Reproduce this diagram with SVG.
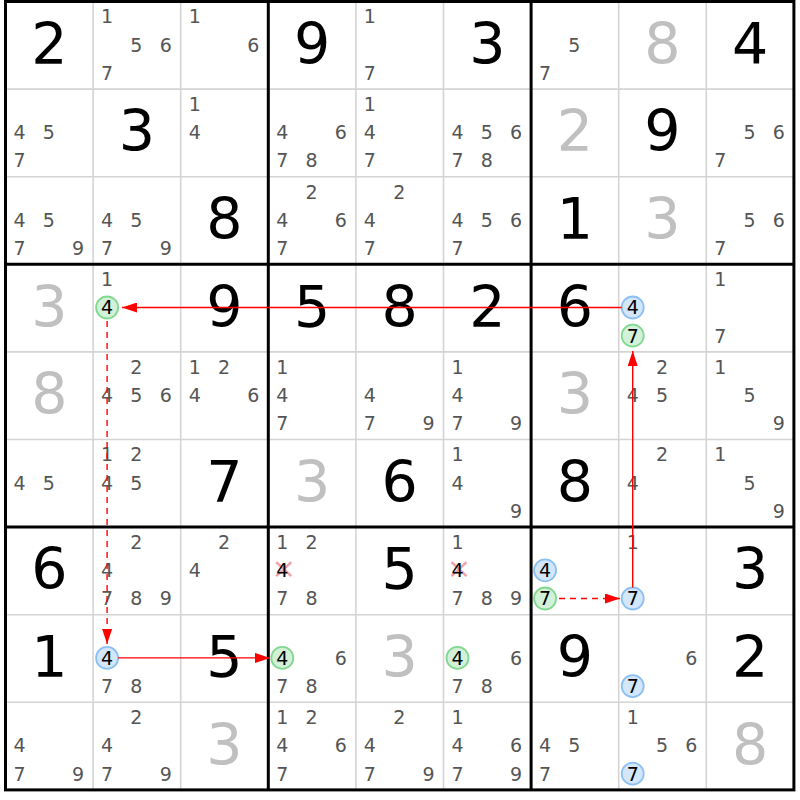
<svg xmlns="http://www.w3.org/2000/svg" width="800" height="800" viewBox="0 0 800 800">
<style>
text{font-family:"DejaVu Sans","Liberation Sans",sans-serif;text-anchor:middle}
.g{font-size:57px;fill:#000}
.s{font-size:57px;fill:#c0c0c0}
.c{font-size:19px;fill:#555}
.h{font-size:19px;fill:#000}
.thin{stroke:#d4d4d4;stroke-width:1.6}
.thick{stroke:#000;stroke-width:3}
.cg{fill:#d3f1d8;stroke:#82d890;stroke-width:1.8}
.cb{fill:#d3e6fa;stroke:#8cc0f2;stroke-width:1.8}
.x{stroke:#f4a0a8;stroke-width:2.5}
.a{stroke:#ff0000;stroke-width:1.4;fill:none}
.d{stroke-dasharray:6,5}
</style>
<defs>
<marker id="ah" markerUnits="userSpaceOnUse" markerWidth="15" markerHeight="10" refX="15" refY="5" orient="auto"><path d="M0,0 L15,5 L0,10 z" fill="#ff0000"/></marker>
</defs>
<rect width="800" height="800" fill="#fff"/>
<g id="grid">
<path class="thin" d="M93.1,1.5V789.9M180.7,1.5V789.9M355.9,1.5V789.9M443.5,1.5V789.9M618.7,1.5V789.9M706.3,1.5V789.9M5.5,89.1H793.9M5.5,176.7H793.9M5.5,351.9H793.9M5.5,439.5H793.9M5.5,614.7H793.9M5.5,702.3H793.9"/>
<path class="thick" d="M268.3,1.5V789.9M531.1,1.5V789.9M5.5,264.3H793.9M5.5,527.1H793.9"/>
<rect class="thick" x="5.5" y="1.5" width="788.4" height="788.4" fill="none"/>
</g>
<g id="cells">
<g id="r0c0" transform="translate(5.5,1.5)"><text class="g" x="43.8" y="62.3">2</text></g>
<g id="r0c1" transform="translate(93.1,1.5)"><text class="c" x="14" y="21.9">1</text><text class="c" x="43.3" y="50.1">5</text><text class="c" x="72.6" y="50.1">6</text><text class="c" x="14" y="78.3">7</text></g>
<g id="r0c2" transform="translate(180.7,1.5)"><text class="c" x="14" y="21.9">1</text><text class="c" x="72.6" y="50.1">6</text></g>
<g id="r0c3" transform="translate(268.3,1.5)"><text class="g" x="43.8" y="62.3">9</text></g>
<g id="r0c4" transform="translate(355.9,1.5)"><text class="c" x="14" y="21.9">1</text><text class="c" x="14" y="78.3">7</text></g>
<g id="r0c5" transform="translate(443.5,1.5)"><text class="g" x="43.8" y="62.3">3</text></g>
<g id="r0c6" transform="translate(531.1,1.5)"><text class="c" x="43.3" y="50.1">5</text><text class="c" x="14" y="78.3">7</text></g>
<g id="r0c7" transform="translate(618.7,1.5)"><text class="s" x="43.8" y="62.3">8</text></g>
<g id="r0c8" transform="translate(706.3,1.5)"><text class="g" x="43.8" y="62.3">4</text></g>

<g id="r1c0" transform="translate(5.5,89.1)"><text class="c" x="14" y="50.1">4</text><text class="c" x="43.3" y="50.1">5</text><text class="c" x="14" y="78.3">7</text></g>
<g id="r1c1" transform="translate(93.1,89.1)"><text class="g" x="43.8" y="62.3">3</text></g>
<g id="r1c2" transform="translate(180.7,89.1)"><text class="c" x="14" y="21.9">1</text><text class="c" x="14" y="50.1">4</text></g>
<g id="r1c3" transform="translate(268.3,89.1)"><text class="c" x="14" y="50.1">4</text><text class="c" x="72.6" y="50.1">6</text><text class="c" x="14" y="78.3">7</text><text class="c" x="43.3" y="78.3">8</text></g>
<g id="r1c4" transform="translate(355.9,89.1)"><text class="c" x="14" y="21.9">1</text><text class="c" x="14" y="50.1">4</text><text class="c" x="14" y="78.3">7</text></g>
<g id="r1c5" transform="translate(443.5,89.1)"><text class="c" x="14" y="50.1">4</text><text class="c" x="43.3" y="50.1">5</text><text class="c" x="72.6" y="50.1">6</text><text class="c" x="14" y="78.3">7</text><text class="c" x="43.3" y="78.3">8</text></g>
<g id="r1c6" transform="translate(531.1,89.1)"><text class="s" x="43.8" y="62.3">2</text></g>
<g id="r1c7" transform="translate(618.7,89.1)"><text class="g" x="43.8" y="62.3">9</text></g>
<g id="r1c8" transform="translate(706.3,89.1)"><text class="c" x="43.3" y="50.1">5</text><text class="c" x="72.6" y="50.1">6</text><text class="c" x="14" y="78.3">7</text></g>

<g id="r2c0" transform="translate(5.5,176.7)"><text class="c" x="14" y="50.1">4</text><text class="c" x="43.3" y="50.1">5</text><text class="c" x="14" y="78.3">7</text><text class="c" x="72.6" y="78.3">9</text></g>
<g id="r2c1" transform="translate(93.1,176.7)"><text class="c" x="14" y="50.1">4</text><text class="c" x="43.3" y="50.1">5</text><text class="c" x="14" y="78.3">7</text><text class="c" x="72.6" y="78.3">9</text></g>
<g id="r2c2" transform="translate(180.7,176.7)"><text class="g" x="43.8" y="62.3">8</text></g>
<g id="r2c3" transform="translate(268.3,176.7)"><text class="c" x="43.3" y="21.9">2</text><text class="c" x="14" y="50.1">4</text><text class="c" x="72.6" y="50.1">6</text><text class="c" x="14" y="78.3">7</text></g>
<g id="r2c4" transform="translate(355.9,176.7)"><text class="c" x="43.3" y="21.9">2</text><text class="c" x="14" y="50.1">4</text><text class="c" x="14" y="78.3">7</text></g>
<g id="r2c5" transform="translate(443.5,176.7)"><text class="c" x="14" y="50.1">4</text><text class="c" x="43.3" y="50.1">5</text><text class="c" x="72.6" y="50.1">6</text><text class="c" x="14" y="78.3">7</text></g>
<g id="r2c6" transform="translate(531.1,176.7)"><text class="g" x="43.8" y="62.3">1</text></g>
<g id="r2c7" transform="translate(618.7,176.7)"><text class="s" x="43.8" y="62.3">3</text></g>
<g id="r2c8" transform="translate(706.3,176.7)"><text class="c" x="43.3" y="50.1">5</text><text class="c" x="72.6" y="50.1">6</text><text class="c" x="14" y="78.3">7</text></g>

<g id="r3c0" transform="translate(5.5,264.3)"><text class="s" x="43.8" y="62.3">3</text></g>
<g id="r3c1" transform="translate(93.1,264.3)"><text class="c" x="14" y="21.9">1</text><circle class="cg" cx="14" cy="43.2" r="11"/><text class="h" x="14" y="50.1">4</text></g>
<g id="r3c2" transform="translate(180.7,264.3)"><text class="g" x="43.8" y="62.3">9</text></g>
<g id="r3c3" transform="translate(268.3,264.3)"><text class="g" x="43.8" y="62.3">5</text></g>
<g id="r3c4" transform="translate(355.9,264.3)"><text class="g" x="43.8" y="62.3">8</text></g>
<g id="r3c5" transform="translate(443.5,264.3)"><text class="g" x="43.8" y="62.3">2</text></g>
<g id="r3c6" transform="translate(531.1,264.3)"><text class="g" x="43.8" y="62.3">6</text></g>
<g id="r3c7" transform="translate(618.7,264.3)"><circle class="cb" cx="14" cy="43.2" r="11"/><text class="h" x="14" y="50.1">4</text><circle class="cg" cx="14" cy="71.4" r="11"/><text class="h" x="14" y="78.3">7</text></g>
<g id="r3c8" transform="translate(706.3,264.3)"><text class="c" x="14" y="21.9">1</text><text class="c" x="14" y="78.3">7</text></g>

<g id="r4c0" transform="translate(5.5,351.9)"><text class="s" x="43.8" y="62.3">8</text></g>
<g id="r4c1" transform="translate(93.1,351.9)"><text class="c" x="43.3" y="21.9">2</text><text class="c" x="14" y="50.1">4</text><text class="c" x="43.3" y="50.1">5</text><text class="c" x="72.6" y="50.1">6</text></g>
<g id="r4c2" transform="translate(180.7,351.9)"><text class="c" x="14" y="21.9">1</text><text class="c" x="43.3" y="21.9">2</text><text class="c" x="14" y="50.1">4</text><text class="c" x="72.6" y="50.1">6</text></g>
<g id="r4c3" transform="translate(268.3,351.9)"><text class="c" x="14" y="21.9">1</text><text class="c" x="14" y="50.1">4</text><text class="c" x="14" y="78.3">7</text></g>
<g id="r4c4" transform="translate(355.9,351.9)"><text class="c" x="14" y="50.1">4</text><text class="c" x="14" y="78.3">7</text><text class="c" x="72.6" y="78.3">9</text></g>
<g id="r4c5" transform="translate(443.5,351.9)"><text class="c" x="14" y="21.9">1</text><text class="c" x="14" y="50.1">4</text><text class="c" x="14" y="78.3">7</text><text class="c" x="72.6" y="78.3">9</text></g>
<g id="r4c6" transform="translate(531.1,351.9)"><text class="s" x="43.8" y="62.3">3</text></g>
<g id="r4c7" transform="translate(618.7,351.9)"><text class="c" x="43.3" y="21.9">2</text><text class="c" x="14" y="50.1">4</text><text class="c" x="43.3" y="50.1">5</text></g>
<g id="r4c8" transform="translate(706.3,351.9)"><text class="c" x="14" y="21.9">1</text><text class="c" x="43.3" y="50.1">5</text><text class="c" x="72.6" y="78.3">9</text></g>

<g id="r5c0" transform="translate(5.5,439.5)"><text class="c" x="14" y="50.1">4</text><text class="c" x="43.3" y="50.1">5</text></g>
<g id="r5c1" transform="translate(93.1,439.5)"><text class="c" x="14" y="21.9">1</text><text class="c" x="43.3" y="21.9">2</text><text class="c" x="14" y="50.1">4</text><text class="c" x="43.3" y="50.1">5</text></g>
<g id="r5c2" transform="translate(180.7,439.5)"><text class="g" x="43.8" y="62.3">7</text></g>
<g id="r5c3" transform="translate(268.3,439.5)"><text class="s" x="43.8" y="62.3">3</text></g>
<g id="r5c4" transform="translate(355.9,439.5)"><text class="g" x="43.8" y="62.3">6</text></g>
<g id="r5c5" transform="translate(443.5,439.5)"><text class="c" x="14" y="21.9">1</text><text class="c" x="14" y="50.1">4</text><text class="c" x="72.6" y="78.3">9</text></g>
<g id="r5c6" transform="translate(531.1,439.5)"><text class="g" x="43.8" y="62.3">8</text></g>
<g id="r5c7" transform="translate(618.7,439.5)"><text class="c" x="43.3" y="21.9">2</text><text class="c" x="14" y="50.1">4</text></g>
<g id="r5c8" transform="translate(706.3,439.5)"><text class="c" x="14" y="21.9">1</text><text class="c" x="43.3" y="50.1">5</text><text class="c" x="72.6" y="78.3">9</text></g>

<g id="r6c0" transform="translate(5.5,527.1)"><text class="g" x="43.8" y="62.3">6</text></g>
<g id="r6c1" transform="translate(93.1,527.1)"><text class="c" x="43.3" y="21.9">2</text><text class="c" x="14" y="50.1">4</text><text class="c" x="14" y="78.3">7</text><text class="c" x="43.3" y="78.3">8</text><text class="c" x="72.6" y="78.3">9</text></g>
<g id="r6c2" transform="translate(180.7,527.1)"><text class="c" x="43.3" y="21.9">2</text><text class="c" x="14" y="50.1">4</text></g>
<g id="r6c3" transform="translate(268.3,527.1)"><text class="c" x="14" y="21.9">1</text><text class="c" x="43.3" y="21.9">2</text><path class="x" d="M8,35L23,49M23,35L8,49"/><text class="h" x="14" y="50.1">4</text><text class="c" x="14" y="78.3">7</text><text class="c" x="43.3" y="78.3">8</text></g>
<g id="r6c4" transform="translate(355.9,527.1)"><text class="g" x="43.8" y="62.3">5</text></g>
<g id="r6c5" transform="translate(443.5,527.1)"><text class="c" x="14" y="21.9">1</text><path class="x" d="M8,35L23,49M23,35L8,49"/><text class="h" x="14" y="50.1">4</text><text class="c" x="14" y="78.3">7</text><text class="c" x="43.3" y="78.3">8</text><text class="c" x="72.6" y="78.3">9</text></g>
<g id="r6c6" transform="translate(531.1,527.1)"><circle class="cb" cx="14" cy="43.2" r="11"/><text class="h" x="14" y="50.1">4</text><circle class="cg" cx="14" cy="71.4" r="11"/><text class="h" x="14" y="78.3">7</text></g>
<g id="r6c7" transform="translate(618.7,527.1)"><text class="c" x="14" y="21.9">1</text><circle class="cb" cx="14" cy="71.4" r="11"/><text class="h" x="14" y="78.3">7</text></g>
<g id="r6c8" transform="translate(706.3,527.1)"><text class="g" x="43.8" y="62.3">3</text></g>

<g id="r7c0" transform="translate(5.5,614.7)"><text class="g" x="43.8" y="62.3">1</text></g>
<g id="r7c1" transform="translate(93.1,614.7)"><circle class="cb" cx="14" cy="43.2" r="11"/><text class="h" x="14" y="50.1">4</text><text class="c" x="14" y="78.3">7</text><text class="c" x="43.3" y="78.3">8</text></g>
<g id="r7c2" transform="translate(180.7,614.7)"><text class="g" x="43.8" y="62.3">5</text></g>
<g id="r7c3" transform="translate(268.3,614.7)"><circle class="cg" cx="14" cy="43.2" r="11"/><text class="h" x="14" y="50.1">4</text><text class="c" x="72.6" y="50.1">6</text><text class="c" x="14" y="78.3">7</text><text class="c" x="43.3" y="78.3">8</text></g>
<g id="r7c4" transform="translate(355.9,614.7)"><text class="s" x="43.8" y="62.3">3</text></g>
<g id="r7c5" transform="translate(443.5,614.7)"><circle class="cg" cx="14" cy="43.2" r="11"/><text class="h" x="14" y="50.1">4</text><text class="c" x="72.6" y="50.1">6</text><text class="c" x="14" y="78.3">7</text><text class="c" x="43.3" y="78.3">8</text></g>
<g id="r7c6" transform="translate(531.1,614.7)"><text class="g" x="43.8" y="62.3">9</text></g>
<g id="r7c7" transform="translate(618.7,614.7)"><text class="c" x="72.6" y="50.1">6</text><circle class="cb" cx="14" cy="71.4" r="11"/><text class="h" x="14" y="78.3">7</text></g>
<g id="r7c8" transform="translate(706.3,614.7)"><text class="g" x="43.8" y="62.3">2</text></g>

<g id="r8c0" transform="translate(5.5,702.3)"><text class="c" x="14" y="50.1">4</text><text class="c" x="14" y="78.3">7</text><text class="c" x="72.6" y="78.3">9</text></g>
<g id="r8c1" transform="translate(93.1,702.3)"><text class="c" x="43.3" y="21.9">2</text><text class="c" x="14" y="50.1">4</text><text class="c" x="14" y="78.3">7</text><text class="c" x="72.6" y="78.3">9</text></g>
<g id="r8c2" transform="translate(180.7,702.3)"><text class="s" x="43.8" y="62.3">3</text></g>
<g id="r8c3" transform="translate(268.3,702.3)"><text class="c" x="14" y="21.9">1</text><text class="c" x="43.3" y="21.9">2</text><text class="c" x="14" y="50.1">4</text><text class="c" x="72.6" y="50.1">6</text><text class="c" x="14" y="78.3">7</text></g>
<g id="r8c4" transform="translate(355.9,702.3)"><text class="c" x="43.3" y="21.9">2</text><text class="c" x="14" y="50.1">4</text><text class="c" x="14" y="78.3">7</text><text class="c" x="72.6" y="78.3">9</text></g>
<g id="r8c5" transform="translate(443.5,702.3)"><text class="c" x="14" y="21.9">1</text><text class="c" x="14" y="50.1">4</text><text class="c" x="72.6" y="50.1">6</text><text class="c" x="14" y="78.3">7</text><text class="c" x="72.6" y="78.3">9</text></g>
<g id="r8c6" transform="translate(531.1,702.3)"><text class="c" x="14" y="50.1">4</text><text class="c" x="43.3" y="50.1">5</text><text class="c" x="14" y="78.3">7</text></g>
<g id="r8c7" transform="translate(618.7,702.3)"><text class="c" x="14" y="21.9">1</text><text class="c" x="43.3" y="50.1">5</text><text class="c" x="72.6" y="50.1">6</text><circle class="cb" cx="14" cy="71.4" r="11"/><text class="h" x="14" y="78.3">7</text></g>
<g id="r8c8" transform="translate(706.3,702.3)"><text class="s" x="43.8" y="62.3">8</text></g>
</g>
<g id="connectors">
<path class="a" d="M621.7,307.5H122" marker-end="url(#ah)"/>
<path class="a d" d="M107.1,321V644" marker-end="url(#ah)"/>
<path class="a" d="M118.1,657.9H270" marker-end="url(#ah)"/>
<path class="a d" d="M559,598.5H620" marker-end="url(#ah)"/>
<path class="a" d="M632.7,587.5V351" marker-end="url(#ah)"/>
</g>
</svg>
